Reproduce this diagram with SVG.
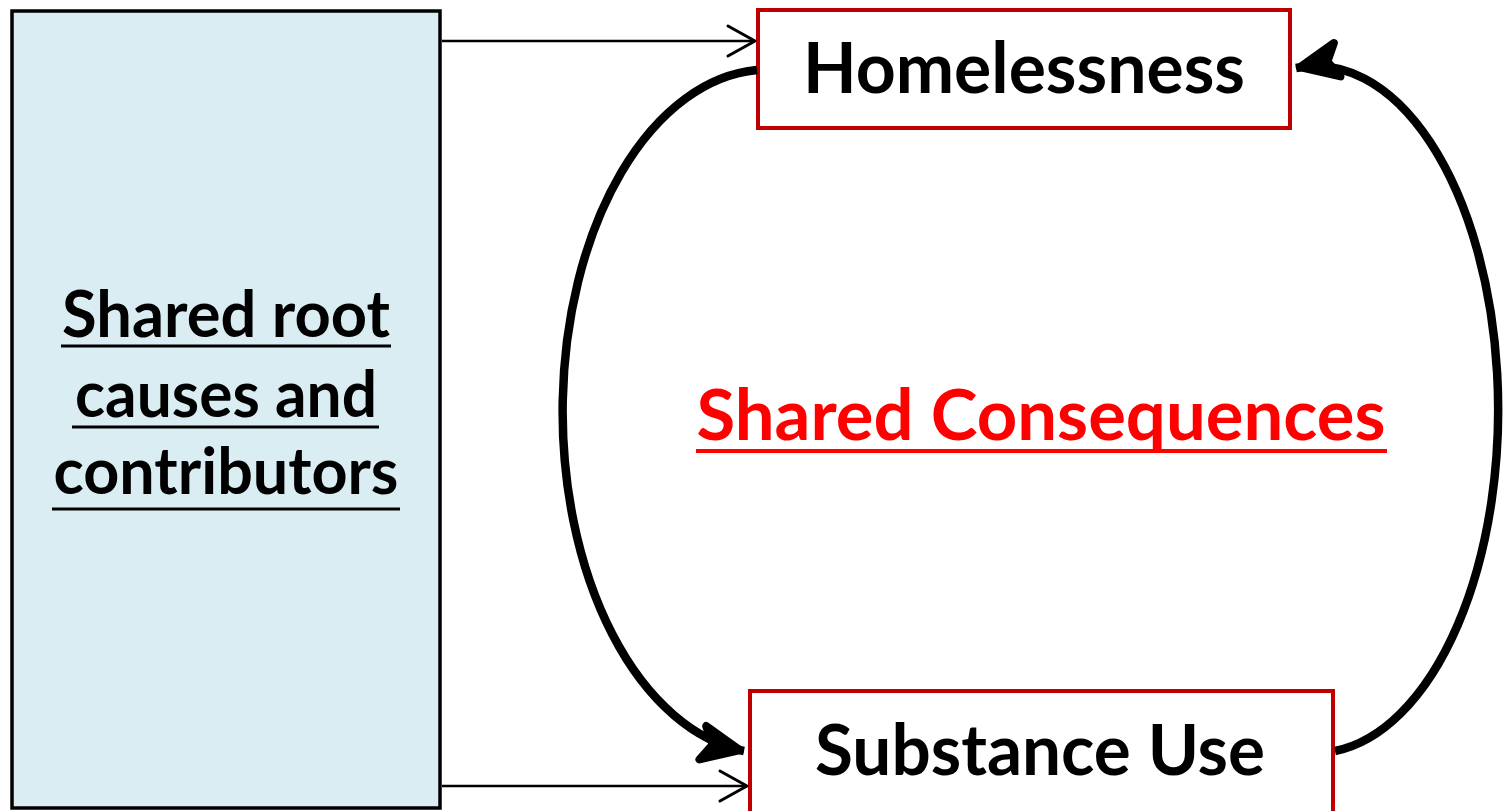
<svg xmlns="http://www.w3.org/2000/svg" width="1505" height="811" viewBox="0 0 1505 811">
<style>
.t{font-family:Lato,"Open Sans","Liberation Sans",sans-serif;font-weight:bold;font-size:70px;text-anchor:middle}
.s{font-size:65px}
.blk{fill:#000}
.red{fill:#FF0000}
.ul{stroke:#000;stroke-width:3}
.ulr{stroke:#FF0000;stroke-width:4}
.box{fill:#fff;stroke:#C00000;stroke-width:4}
.thin{fill:none;stroke:#000;stroke-width:2.5}
.thick{fill:none;stroke:#000;stroke-width:8.5}
</style>
<defs>
<marker id="open" markerUnits="userSpaceOnUse" markerWidth="40" markerHeight="40" viewBox="-30 -20 40 40" refX="0" refY="0" orient="auto">
<polyline points="-27,-15 0,0 -27,15" fill="none" stroke="#000" stroke-width="3" stroke-linecap="round" stroke-linejoin="round"/>
</marker>
<marker id="bold" markerUnits="userSpaceOnUse" markerWidth="60" markerHeight="60" viewBox="-50 -30 60 60" refX="0" refY="0" orient="auto">
<path d="M0,0 L-38,-17 L-28,0 L-38,17 Z" fill="#000" stroke="#000" stroke-width="8" stroke-linejoin="round" transform="translate(-4,0)"/>
</marker>
</defs>
<g id="roots">
<rect x="12" y="11" width="428" height="797" fill="#DAEDF3" stroke="#000" stroke-width="3.5"/>
<text class="t s blk" x="226" y="337" textLength="328" lengthAdjust="spacingAndGlyphs">Shared root</text>
<line class="ul" x1="61" y1="346" x2="391" y2="346"/>
<text class="t s blk" x="226" y="417" textLength="302" lengthAdjust="spacingAndGlyphs">causes and</text>
<line class="ul" x1="72" y1="427" x2="379" y2="427"/>
<text class="t s blk" x="226" y="494" textLength="345" lengthAdjust="spacingAndGlyphs">contributors</text>
<line class="ul" x1="52" y1="509" x2="400" y2="509"/>
</g>
<g id="homelessness">
<rect class="box" x="758" y="10" width="532" height="118"/>
<text class="t blk" x="1024" y="93" textLength="442" lengthAdjust="spacingAndGlyphs">Homelessness</text>
</g>
<g id="substance">
<rect class="box" x="750" y="691" width="583" height="122"/>
<text class="t blk" x="1040" y="775" textLength="450" lengthAdjust="spacingAndGlyphs">Substance Use</text>
</g>
<g id="consequences">
<text class="t red" x="1041" y="440" textLength="689" lengthAdjust="spacingAndGlyphs">Shared Consequences</text>
<line class="ulr" x1="696" y1="451" x2="1387" y2="451"/>
</g>
<g id="connectors">
<line class="thin" x1="442" y1="41" x2="755" y2="41" marker-end="url(#open)"/>
<line class="thin" x1="442" y1="786" x2="747" y2="786" marker-end="url(#open)"/>
<path class="thick" d="M757,70 A206,342 0 0 0 744,751" marker-end="url(#bold)"/>
<path class="thick" d="M1335,751 A182,342 0 0 0 1296,68" marker-end="url(#bold)"/>
</g>
</svg>
